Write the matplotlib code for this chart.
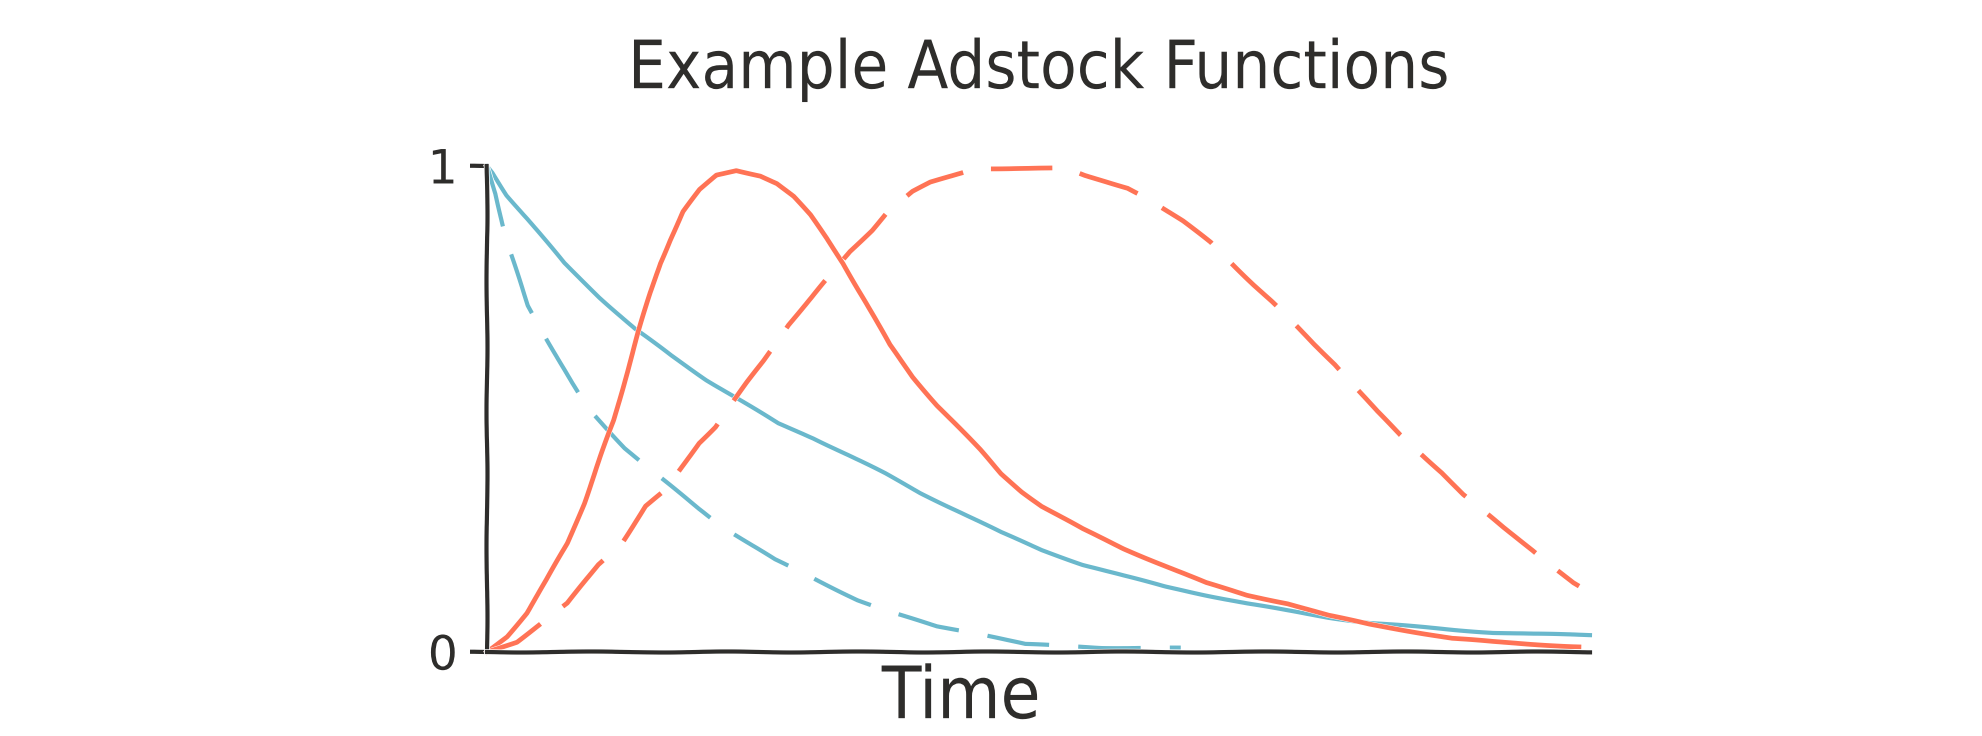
import matplotlib
matplotlib.use("Agg")
import matplotlib.pyplot as plt

# values, time runs 0..100
blue_solid_t = [0, 0.5, 1.8, 3.7, 7.0, 10.2, 13.4, 16.7, 19.9, 23.1, 26.4, 29.6, 32.8, 36.1, 39.3,
                42.9, 46.6, 50.3, 54.0, 57.7, 61.4, 65.2, 68.9, 72.6, 76.3, 80.0, 83.7, 87.5, 91.2, 94.9, 100]
blue_solid_v = [1.0, 0.986, 0.94, 0.89, 0.80, 0.73, 0.665, 0.61, 0.56, 0.516, 0.47, 0.44, 0.405, 0.367, 0.327,
                0.288, 0.246, 0.21, 0.18, 0.157, 0.135, 0.117, 0.10, 0.085, 0.071, 0.06, 0.053, 0.046, 0.04, 0.037, 0.035]

blue_dash_t = [0, 0.8, 1.6, 2.1, 3.7, 4.9, 7.7, 9.0, 12.5, 14.6, 19.2, 21.5, 26.1, 28.7, 33.6, 36.1,
               40.8, 44.5, 48.8, 55.7, 62.9]
blue_dash_v = [1.0, 0.943, 0.861, 0.822, 0.713, 0.665, 0.553, 0.505, 0.42, 0.379, 0.295, 0.256, 0.19, 0.162, 0.107, 0.085,
               0.053, 0.039, 0.016, 0.009, 0.008]

red_solid_t = [0, 1.8, 3.6, 5.4, 7.3, 8.8, 10.3, 11.5, 12.5, 13.7, 14.8, 15.7, 16.6, 17.8, 19.3, 20.8,
               22.6, 24.8, 26.3, 27.8, 29.3, 30.8, 32.3, 34.4, 36.5, 38.6, 40.8, 42.6, 44.7, 46.6, 48.5,
               50.3, 54.0, 57.7, 61.4, 65.2, 68.9, 72.6, 76.3, 80.0, 83.7, 87.5, 91.2, 94.9, 99]
red_solid_v = [0, 0.032, 0.08, 0.148, 0.224, 0.306, 0.402, 0.477, 0.56, 0.656, 0.738, 0.80, 0.848, 0.906, 0.951, 0.981,
               0.991, 0.98, 0.964, 0.937, 0.899, 0.851, 0.80, 0.717, 0.632, 0.566, 0.508, 0.466, 0.416, 0.367, 0.33,
               0.30, 0.253, 0.213, 0.178, 0.142, 0.117, 0.10, 0.075, 0.057, 0.043, 0.028, 0.021, 0.016, 0.011]

red_dash_t = [0, 2.7, 5.3, 7.3, 10.1, 12.2, 14.4, 16.2, 19.2, 20.7, 23.6, 25.1, 27.3, 29.4, 32.9, 34.9,
              36.2, 38.6, 40.2, 44.3, 46.3, 52.4, 54.2, 58.1, 59.6, 63.1, 65.6, 69.5, 71.2, 75.0, 76.9, 80.7,
              82.8, 86.6, 88.5, 92.2, 94.8, 98.5, 99]
red_dash_v = [0, 0.021, 0.066, 0.10, 0.18, 0.224, 0.30, 0.333, 0.43, 0.463, 0.555, 0.6, 0.673, 0.728, 0.824, 0.868,
              0.903, 0.947, 0.966, 0.995, 0.995, 0.995, 0.98, 0.955, 0.937, 0.886, 0.843, 0.756, 0.72, 0.633, 0.592, 0.495,
              0.446, 0.369, 0.324, 0.255, 0.21, 0.142, 0.135]

blue = "#6ab8cc"
red = "#ff7355"
ink = "#2e2d2b"

plt.xkcd(scale=0.5, length=150, randomness=2)
plt.rcParams['font.family'] = ['DejaVu Sans']

fig = plt.figure(figsize=(19.82, 7.36), dpi=100)
ax = fig.add_axes([0.2457, 0.1141, 0.5565, 0.6604])

ax.plot(blue_solid_t, blue_solid_v, color=blue, lw=3.0, clip_on=False)
ax.plot(blue_dash_t, blue_dash_v, color=blue, lw=3.0, dashes=(15, 7), clip_on=False)
ax.plot(red_solid_t, red_solid_v, color=red, lw=3.4, clip_on=False)
ax.plot(red_dash_t, red_dash_v, color=red, lw=3.4, dashes=(13, 6), clip_on=False)

ax.set_xlim(0, 100)
ax.set_ylim(0, 1)
for s in ['top', 'right']:
    ax.spines[s].set_visible(False)
for s in ['left', 'bottom']:
    ax.spines[s].set_linewidth(3)
    ax.spines[s].set_color(ink)

ax.set_xticks([])
ax.set_yticks([0, 1])
ax.set_yticklabels(['0', '1'])
ax.tick_params(axis='y', length=12, width=3, color=ink, pad=9, labelsize=34, labelcolor=ink)

ax.set_xlabel('Time', fontsize=52, color=ink, fontstretch='condensed')
ax.xaxis.set_label_coords(0.43, -0.025)
ax.set_title('Example Adstock Functions', fontsize=48, color=ink, pad=56,
             fontstretch='condensed')

fig.savefig('out.png', dpi=100)
